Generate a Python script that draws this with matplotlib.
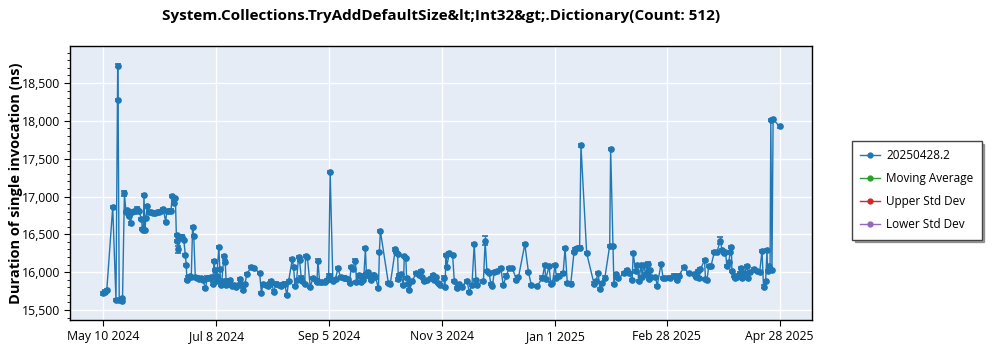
import pandas as pd
import matplotlib.pyplot as plt
import matplotlib.ticker as mticker
from matplotlib.lines import Line2D


# run dates, as days after the first run (2024-05-10)
start = pd.Timestamp("2024-05-10")
days = [
    0, 0.9, 1.8, 4.9, 6.6, 7.5, 7.7, 8.3, 9.0, 9.6, 10.0, 11.0, 11.8, 12.3, 12.9, 13.4,
    14.2, 14.9, 16.0, 17.0, 17.8, 18.6, 19.9, 20.4, 20.9, 21.2, 21.7, 22.2, 23.0, 23.8,
    24.8, 25.9, 26.9, 28.0, 29.0, 30.1, 31.3, 32.5, 33.2, 34.2, 35.3, 36.0, 36.8, 37.6,
    38.2, 38.6, 39.2, 39.9, 41.0, 42.0, 42.8, 43.3, 43.6,
    44.1, 45.2, 45.9, 46.6, 47.2, 48.0, 48.8, 49.8, 50.9, 51.9, 53.3, 54.3, 55.1, 56.1,
    57.1, 57.8, 58.2, 58.7, 59.2, 60.3, 60.8, 61.3, 61.8, 63.0, 63.6, 64.2, 64.7, 65.5,
    66.3, 67.0, 68.1, 69.5, 70.2, 71.2, 72.0, 72.8, 73.8, 75.0, 77.3, 78.5, 81.6, 82.5,
    83.3, 85.1, 86.0, 86.8, 87.7, 88.9, 90.3, 91.5, 92.6, 93.6, 94.6, 95.8, 96.7, 98.6,
    99.3, 100.0, 100.9, 101.9, 102.4, 103.3, 103.8, 105.1, 105.6, 106.5, 108.0, 109.4,
    110.8, 111.5, 112.0, 112.9, 113.9, 115.5, 116.5, 117.6, 118.4, 119.8, 121.2, 122.4,
    123.8, 125.4, 126.4, 127.6, 128.5, 129.4, 130.2, 131.6, 132.1, 133.2, 133.7, 134.7,
    135.4, 136.0, 136.8, 137.3, 138.4, 139.2, 139.9, 140.5, 141.5, 142.0, 143.6, 144.1,
    144.6, 148.8, 149.8, 152.4, 152.9, 153.6, 154.0, 154.5, 155.3, 156.6, 157.1, 157.9,
    158.3, 159.2, 159.7, 161.3, 163.2, 164.9, 166.0, 166.5, 167.5, 169.1, 171.0, 171.9,
    172.8, 173.6, 174.8, 175.9, 177.6, 178.3, 178.9, 179.2, 180.6, 182.3, 183.2, 184.4,
    185.8, 187.0, 189.8, 191.0, 192.4, 193.6, 194.5, 195.3, 198.4, 199.3, 200.2, 201.4,
    202.3, 203.1, 204.0, 205.7, 207.5, 208.7, 210.4, 211.8, 213.5, 215.6, 216.7, 220.0,
    221.9, 223.4, 226.6, 229.2, 230.4, 230.9, 232.7, 233.5, 234.4, 235.8, 236.5, 237.9,
    240.0, 241.0, 242.2, 244.0, 245.7, 246.2, 247.4, 248.6, 249.3, 252.3, 256.1, 257.0,
    258.3, 259.2, 260.1, 261.8, 264.3, 264.8, 266.0, 266.5, 267.4, 268.8, 271.7, 273.1,
    274.3, 276.0, 276.6, 277.8, 278.6, 279.5, 280.7, 281.3, 282.1, 283.0, 284.2, 284.7,
    285.3, 285.9, 288.2, 289.1, 291.1, 292.2, 293.4, 296.0, 297.8, 299.2, 300.4, 303.0,
    305.6, 308.2, 309.6, 310.3, 310.8, 311.7, 313.8, 314.3, 315.1, 316.0, 317.2, 318.9,
    320.3, 322.1, 322.9, 323.8, 324.7, 325.5, 326.4, 327.3, 327.8, 328.1, 329.0, 329.9,
    330.7, 332.1, 332.8, 333.3, 334.6, 335.9, 336.5, 337.7, 339.8, 341.1, 342.6, 343.8,
    344.6, 345.7, 346.4, 346.7, 347.6, 348.0, 348.4, 349.0, 349.6, 353.0,
]
durations = [
    15720, 15745, 15765, 16860, 15630, 18730, 18275, 15635, 15650, 15660, 15625, 17040,
    16800, 16820, 16810, 16740, 16645, 16800, 16805, 16810, 16840, 16810, 16700, 16570,
    16555, 17020, 16560, 16720, 16876, 16800, 16790, 16785, 16780, 16790, 16800, 16810,
    16835, 16668, 16810, 16810, 16815, 17010, 16920, 16985, 16410, 16490, 16300, 16470,
    16460, 16430, 16230, 16095, 15900,
    15930, 15945, 15940, 16600, 16480, 15935, 15930, 15910, 15920, 15900, 15787, 15930,
    15925, 15940, 15850, 16152, 16030, 15890, 15950, 16330, 16040, 15830, 15880, 16218,
    16140, 15830, 15890, 15850, 15900, 15820, 15830, 15808, 15830, 15910, 15840, 15770,
    15840, 15980, 16073, 16060, 15985, 15729, 15840, 15830, 15820, 15850, 15880, 15745,
    15850, 15830, 15820, 15840, 15850, 15698, 15880, 16170, 16073, 15820, 15900, 16205,
    16160, 15930, 15890, 15840, 16214, 16200, 15805, 15920, 15900, 15875, 16153, 15870,
    15875, 15870, 15900, 15955, 17325, 15885, 15910, 16051, 15940, 15930, 15920, 15910,
    15860, 16073, 16045, 16153, 15875, 15950, 15960, 15870, 15900, 15955, 16316, 15980,
    16000, 15940, 15900, 15960, 15960, 15940, 15787, 16271, 16545, 15853, 15850, 16300,
    16270, 16240, 15905, 15960, 15980, 15830, 16214, 16185, 15920, 15840, 15765, 15880,
    15993, 15960, 16020, 15940, 15880, 15900, 15920, 15960, 15900, 15940, 15860, 15830,
    15930, 15800, 16228, 16073, 16250, 16228, 15880, 15790, 15840, 15810, 15885, 15743,
    15830, 16369, 15900, 15830, 15885, 16413, 16020, 15985, 15840, 15820, 16000, 16015,
    16060, 15830, 15955, 16060, 16055, 15900, 15935, 16369, 16000, 15830, 15820, 15930,
    16095, 15910, 16080, 15850, 15855, 16095, 15930, 15955, 15985, 16316, 15853, 15850,
    16271, 16300, 16320, 16325, 17674, 16250, 15850, 15880, 15985, 15774, 15860, 15930,
    16350, 17628, 16350, 15845, 15970, 15920, 15985, 16030, 15985, 15900, 16250, 16010,
    16100, 15880, 16100, 15940, 16100, 15975, 16115, 15910, 16030, 15940, 15940, 15822,
    16108, 15920, 15920, 15930, 15955, 15900, 15955, 16065, 15985, 15975, 15940, 16020,
    15920, 16040, 16160, 15910, 15900, 16080, 16085, 16263, 16270, 16417, 16290, 16250,
    16270, 16080, 16135, 16270, 16330, 16020, 15955, 15920, 15940, 15985, 16060, 15920,
    15985, 16085, 15920, 16000, 16040, 16020, 16000, 16284, 15810, 15880, 16290, 16020,
    16080, 16040, 18014, 16030, 18020, 17925,
]
# error bars (ns): most runs are tight, a few are wider
err_default = 15
err_wide = {11.0: 35, 39.2: 40, 41.0: 35, 199.3: 60, 322.1: 45}

tick_dates = ["2024-05-10", "2024-07-08", "2024-09-05", "2024-11-03",
              "2025-01-01", "2025-02-28", "2025-04-28"]

title = "System.Collections.TryAddDefaultSize&lt;Int32&gt;.Dictionary(Count: 512)"
series = ["20250428.2", "Moving Average", "Upper Std Dev", "Lower Std Dev"]
colors = ["#1f77b4", "#2ca02c", "#d62728", "#9467bd"]

plt.rcParams['font.family'] = ['Open Sans', 'DejaVu Sans']

dates = [start + pd.Timedelta(days=d) for d in days]
errs = [err_wide.get(d, err_default) for d in days]

fig = plt.figure(figsize=(10, 3.5), dpi=100)
ax = fig.add_axes([0.07, 0.086, 0.742, 0.783])
ax.set_facecolor("#e5ecf6")

ax.errorbar(dates, durations, yerr=errs, color=colors[0], lw=1, marker="o", ms=3.8,
            capsize=2.5, elinewidth=1, capthick=1.2, zorder=3)

ax.set_ylim(15370, 18990)
ax.set_xlim(start - pd.Timedelta(days=17.4), start + pd.Timedelta(days=369.9))
ax.yaxis.set_major_locator(mticker.MultipleLocator(500))
ax.yaxis.set_minor_locator(mticker.MultipleLocator(100))
ax.yaxis.set_major_formatter(mticker.FuncFormatter(lambda v, p: f"{v:,.0f}"))

ticks = [pd.Timestamp(t) for t in tick_dates]
ax.set_xticks(ticks)
ax.set_xticklabels([f"{t:%b} {t.day} {t.year}" for t in ticks])
ax.tick_params(labelsize=8.8, length=4, direction="out", pad=3)
ax.tick_params(which="minor", length=2.5)

ax.grid(True, color="white", lw=1)
ax.set_axisbelow(True)
for s in ax.spines.values():
    s.set_color("black")
    s.set_linewidth(1)

ax.set_ylabel("Duration of single invocation (ns)", fontsize=10.5, fontweight="bold")
ax.yaxis.set_label_coords(-0.064, 0.5)
fig.suptitle(title, fontsize=11, fontweight="bold", x=0.441, y=0.975)

handles = [Line2D([], [], color=c, lw=1, marker="o", ms=3.5) for c in colors]
leg = fig.legend(handles, series, loc="upper left", bbox_to_anchor=(0.846, 0.614),
                 fontsize=8.5, frameon=True, fancybox=False, shadow=True,
                 handlelength=1.7, handletextpad=0.5, borderpad=0.7, labelspacing=0.85)
leg.get_frame().set_edgecolor("#444444")

fig.savefig("out.png", dpi=100)
